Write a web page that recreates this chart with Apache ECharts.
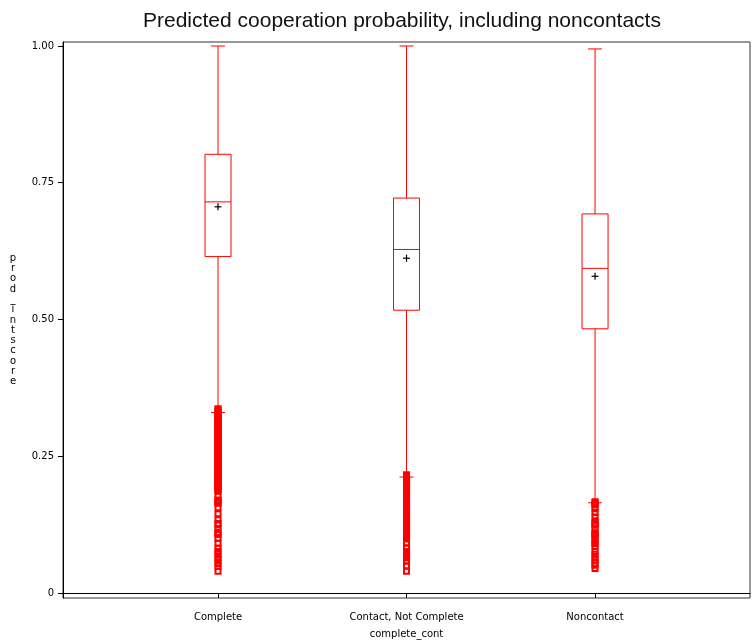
<!DOCTYPE html>
<html>
<head>
<meta charset="utf-8">
<script src="https://cdn.jsdelivr.net/npm/echarts@6/dist/echarts.min.js"></script>
<style>
html,body{margin:0;padding:0;background:#fff;}
#chart{width:752px;height:644px;}
</style>
</head>
<body>
<div id="chart"></div>
<script>
// ---- data ----
const categories = ['Complete', 'Contact, Not Complete', 'Noncontact'];
const lowWhisker = [0.330, 0.212, 0.165];
const q1Values = [0.615, 0.517, 0.483];
const medianValues = [0.715, 0.628, 0.5935];
const q3Values = [0.802, 0.722, 0.693];
const highWhisker = [1.000, 1.000, 0.9946];
const meanValues = [0.706, 0.612, 0.579];

const outliersComplete = [0.337,0.335,0.333,0.330,0.328,0.326,0.323,0.321,0.319,0.316,0.314,0.312,0.309,0.307,0.305,0.302,0.300,0.298,0.295,0.293,0.291,0.288,0.286,0.284,0.281,0.279,0.277,0.274,0.272,0.270,0.267,0.265,0.263,0.260,0.258,0.256,0.253,0.251,0.249,0.246,0.244,0.242,0.239,0.237,0.235,0.232,0.230,0.228,0.225,0.223,0.221,0.218,0.216,0.214,0.211,0.209,0.207,0.204,0.202,0.200,0.197,0.195,0.193,0.190,0.188,0.186,
  0.178,0.170,0.168,0.166,0.164,0.156,0.145,0.134,0.127,0.125,0.118,0.111,0.109,0.107,0.100,0.091,0.082,0.076,0.071,0.065,0.060,0.054,0.049,0.040];
const outliersContact = [0.216,0.214,0.211,0.209,0.207,0.204,0.202,0.200,0.197,0.195,0.193,0.190,0.188,0.186,0.183,0.181,0.179,0.176,0.174,0.172,0.169,0.167,0.165,0.162,0.160,0.158,0.155,0.153,0.151,0.148,0.146,0.144,0.141,0.139,0.137,0.134,0.132,0.130,0.127,0.125,0.123,0.120,0.118,0.116,0.113,0.111,0.109,0.106,0.104,0.102,0.099,
  0.091,0.083,0.076,0.074,0.072,0.070,0.068,0.066,0.064,0.058,0.050,0.040];
const outliersNoncontact = [0.167,0.165,0.163,0.161,0.154,0.147,0.139,0.132,0.128,0.126,0.124,0.116,0.110,0.108,0.106,0.104,0.098,0.092,0.090,0.085,0.076,0.071,0.065,0.060,0.055,0.051,0.045];

const yTickValues = [0, 0.25, 0.5, 0.75, 1];
const yTickLabels = ['0', '0.25', '0.50', '0.75', '1.00'];
const xTickValues = [1, 2, 3];

// ---- build ----
const outlierSets = [outliersComplete, outliersContact, outliersNoncontact];
const boxData = categories.map((c, i) => [i + 1, lowWhisker[i], q1Values[i], medianValues[i], q3Values[i], highWhisker[i], meanValues[i]]);
const outlierData = [];
outlierSets.forEach((arr, i) => arr.forEach(v => outlierData.push([i + 1, v])));

const BOX_W = 0.138;   // in x-axis units
const CAP_W = 0.074;
const RED = '#ff0000';

function renderBox(params, api) {
  const x = api.value(0);
  const lw = api.value(1), q1 = api.value(2), md = api.value(3), q3 = api.value(4), hw = api.value(5), mn = api.value(6);
  const halfBox = api.size([BOX_W, 0])[0] / 2;
  const halfCap = api.size([CAP_W, 0])[0] / 2;
  const pLw = api.coord([x, lw]), pQ1 = api.coord([x, q1]), pMd = api.coord([x, md]),
        pQ3 = api.coord([x, q3]), pHw = api.coord([x, hw]), pMn = api.coord([x, mn]);
  const cx = pMd[0];
  const ls = { stroke: RED, lineWidth: 1 };
  const children = [
    { type: 'line', shape: { x1: cx, y1: pHw[1], x2: cx, y2: pQ3[1] }, style: ls },
    { type: 'line', shape: { x1: cx, y1: pQ1[1], x2: cx, y2: pLw[1] }, style: ls },
    { type: 'line', shape: { x1: cx - halfCap, y1: pHw[1], x2: cx + halfCap, y2: pHw[1] }, style: ls },
    { type: 'line', shape: { x1: cx - halfCap, y1: pLw[1], x2: cx + halfCap, y2: pLw[1] }, style: ls },
    { type: 'rect', shape: { x: cx - halfBox, y: pQ3[1], width: halfBox * 2, height: pQ1[1] - pQ3[1] }, style: { fill: 'none', stroke: RED, lineWidth: 1 } },
    { type: 'line', shape: { x1: cx - halfBox, y1: pMd[1], x2: cx + halfBox, y2: pMd[1] }, style: ls },
    { type: 'line', shape: { x1: cx - 3.5, y1: pMn[1], x2: cx + 3.5, y2: pMn[1] }, style: { stroke: '#000', lineWidth: 1.2 } },
    { type: 'line', shape: { x1: cx, y1: pMn[1] - 3.5, x2: cx, y2: pMn[1] + 3.5 }, style: { stroke: '#000', lineWidth: 1.2 } }
  ];
  return { type: 'group', children };
}

const chart = echarts.init(document.getElementById('chart'), null, { renderer: 'canvas' });
const TITLE_FONT = 'Liberation Sans';
const FONT = 'DejaVu Sans';
chart.setOption({
  animation: false,
  backgroundColor: '#fff',
  title: {
    text: 'Predicted cooperation probability, including noncontacts',
    left: 138, top: 6,
    textStyle: { fontFamily: TITLE_FONT, fontSize: 21, fontWeight: 'normal', color: '#111' }
  },
  grid: { left: 63, right: 2, top: 42, bottom: 42, show: true, borderColor: '#333', borderWidth: 1, containLabel: false },
  xAxis: {
    type: 'value', min: 0.1777, max: 3.822,
    name: 'complete_cont', nameLocation: 'middle', nameGap: 31,
    nameTextStyle: { fontFamily: FONT, fontSize: 10, color: '#000' },
    axisLine: { show: true, lineStyle: { color: '#000', width: 1 } },
    axisTick: { show: true, length: 5, customValues: xTickValues, lineStyle: { color: '#000' } },
    axisLabel: { customValues: xTickValues, margin: 14, fontFamily: FONT, fontSize: 10, color: '#000',
      formatter: v => categories[Math.round(v) - 1] || '' },
    splitLine: { show: false }
  },
  yAxis: {
    type: 'value', min: -0.00907, max: 1.00726,
    name: 'prod_intscore'.split('').join('\n'), nameLocation: 'middle', nameRotate: 0, nameGap: 50,
    nameTextStyle: { fontFamily: FONT, fontSize: 10, lineHeight: 10.3, color: '#000', align: 'center', verticalAlign: 'middle' },
    axisLine: { show: true, lineStyle: { color: '#000', width: 1 } },
    axisTick: { show: true, length: 5, customValues: yTickValues, lineStyle: { color: '#000' } },
    axisLabel: { customValues: yTickValues, margin: 9, fontFamily: FONT, fontSize: 10, color: '#000',
      formatter: v => { const k = yTickValues.findIndex(t => Math.abs(t - v) < 1e-6); return k >= 0 ? yTickLabels[k] : ''; } },
    splitLine: { show: false }
  },
  series: [
    {
      type: 'scatter', data: outlierData, symbol: 'rect', symbolSize: 5,
      itemStyle: { color: 'rgba(255,255,255,0)', borderColor: RED, borderWidth: 2, opacity: 1 },
      emphasis: { disabled: true }, silent: true, z: 2
    },
    {
      type: 'custom', data: boxData, renderItem: renderBox, silent: true, z: 3,
      encode: { x: 0, y: [1, 2, 3, 4, 5, 6] }
    }
  ]
});
</script>
</body>
</html>
